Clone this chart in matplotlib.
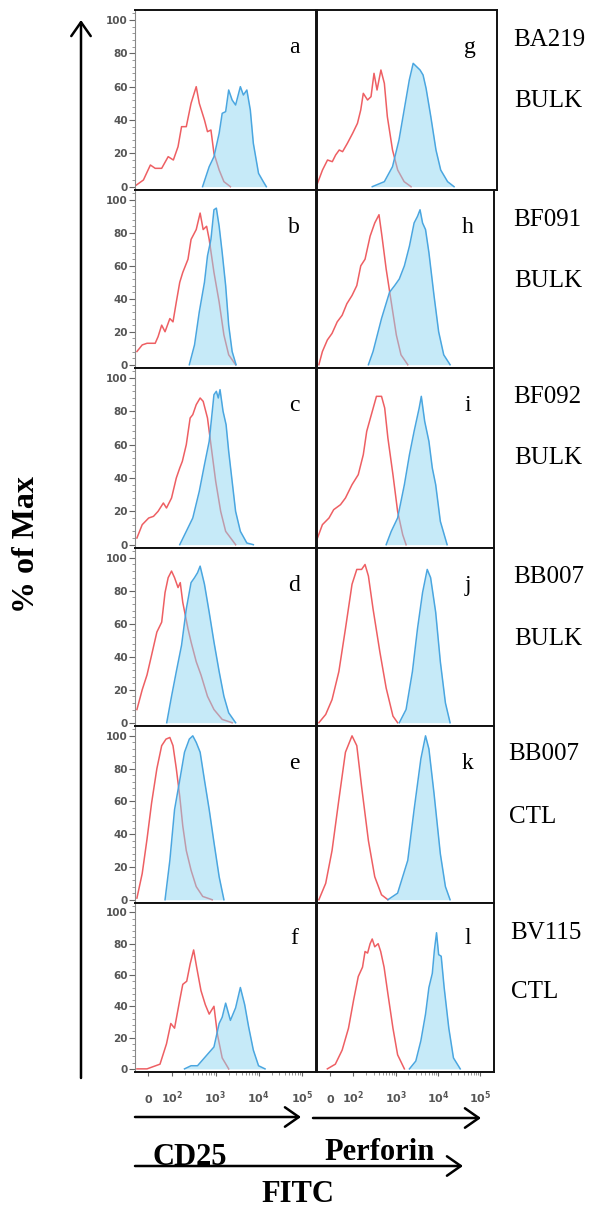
import numpy as np
import matplotlib.pyplot as plt
import matplotlib.ticker as mticker
from matplotlib.patches import FancyArrowPatch

# ---- data: FITC intensity (x) vs % of Max (y), red = control, blue = stained ----
# left column: CD25
a_red_x = [-49, -20, 9, 29, 56, 83, 106, 136, 164, 211, 272, 358, 421, 555, 652, 783, 920, 1213, 1563, 2208]
a_red_y = [1, 4, 13, 11, 11, 18, 16, 24, 36, 36, 50, 60, 50, 40, 33, 34, 20, 10, 3, 0]
a_blue_x = [502, 714, 920, 1213, 1426, 1714, 2014, 2421, 2911, 3750, 4406, 5297, 6368, 7482, 9863, 12706, 14928]
a_blue_y = [0, 12, 18, 32, 44, 45, 58, 52, 49, 60, 55, 58, 46, 26, 8, 3, 0]

b_red_x = [-47, -25, -5, 29, 41, 56, 70, 90, 104, 124, 149, 175, 231, 272, 358, 441, 518, 622, 714, 920, 1213, 1563, 2014, 2911]
b_red_y = [8, 12, 13, 13, 17, 24, 20, 28, 26, 38, 50, 56, 64, 76, 82, 92, 82, 84, 76, 56, 38, 18, 6, 0]
b_blue_x = [248, 327, 421, 555, 652, 783, 920, 1045, 1213, 1426, 1714, 2014, 2421, 2979]
b_blue_y = [0, 12, 32, 50, 66, 76, 94, 95, 84, 68, 48, 24, 8, 0]

c_red_x = [-47, -25, 2, 22, 41, 63, 76, 97, 124, 149, 171, 211, 259, 298, 358, 441, 518, 652, 820, 1009, 1315, 1714, 2911]
c_red_y = [4, 12, 16, 17, 20, 25, 22, 28, 40, 46, 50, 60, 76, 78, 84, 88, 86, 76, 56, 38, 20, 8, 0]
c_blue_x = [149, 211, 298, 421, 555, 714, 920, 1045, 1159, 1271, 1493, 1754, 2014, 2421, 2911, 3750, 5297, 7482]
c_blue_y = [0, 8, 16, 32, 48, 62, 90, 92, 88, 93, 80, 72, 56, 38, 20, 8, 1, 0]

d_red_x = [-47, -25, -5, 14, 36, 56, 70, 83, 97, 113, 136, 153, 175, 231, 272, 358, 461, 652, 920, 1426, 2421]
d_red_y = [8, 20, 29, 41, 55, 61, 79, 88, 92, 88, 82, 85, 73, 57, 49, 37, 29, 16, 8, 2, 0]
d_blue_x = [77, 97, 124, 164, 211, 272, 327, 384, 441, 555, 714, 920, 1213, 1563, 2014, 2911]
d_blue_y = [0, 16, 31, 47, 69, 85, 88, 91, 95, 84, 67, 49, 31, 16, 6, 0]

e_red_x = [-47, -25, -5, 14, 36, 56, 74, 90, 104, 124, 149, 175, 211, 272, 358, 506, 839]
e_red_y = [1, 16, 37, 59, 80, 94, 98, 99, 94, 80, 63, 45, 30, 18, 8, 2, 0]
e_blue_x = [70, 90, 113, 149, 192, 248, 298, 358, 441, 555, 714, 920, 1213, 1563]
e_blue_y = [0, 24, 55, 73, 90, 98, 100, 96, 90, 73, 55, 35, 14, 0]

f_red_x = [-47, -5, 49, 76, 94, 113, 149, 175, 216, 259, 312, 366, 461, 581, 714, 920, 1107, 1426, 2014]
f_red_y = [0, 0, 3, 16, 29, 26, 44, 54, 56, 67, 76, 65, 50, 41, 35, 40, 22, 7, 0]
f_blue_x = [192, 272, 384, 594, 920, 1213, 1426, 1714, 2208, 2911, 3750, 4721, 5808, 7482, 9863, 13932]
f_blue_y = [0, 2, 2, 8, 14, 29, 33, 42, 31, 39, 52, 41, 27, 12, 2, 0]

# right column: Perforin
g_red_x = [-53, -32, -11, 9, 23, 38, 52, 72, 94, 120, 143, 164, 206, 248, 291, 342, 421, 506, 594, 783, 1033, 1459, 2109]
g_red_y = [2, 10, 16, 15, 19, 22, 21, 26, 32, 38, 46, 56, 52, 54, 68, 58, 70, 62, 42, 22, 10, 3, 0]
g_blue_x = [265, 506, 783, 1107, 1459, 1923, 2366, 2844, 3420, 4018, 4721, 6081, 8017, 10328, 14928, 21086]
g_blue_y = [0, 3, 12, 28, 46, 64, 74, 72, 70, 67, 59, 42, 22, 10, 3, 0]

h_red_x = [-47, -32, -11, 9, 31, 52, 72, 94, 120, 149, 188, 248, 319, 402, 472, 594, 783, 1033, 1330, 1923]
h_red_y = [0, 8, 15, 19, 26, 30, 37, 42, 48, 60, 64, 78, 86, 91, 78, 58, 38, 18, 6, 0]
h_blue_x = [226, 291, 461, 714, 942, 1213, 1600, 2109, 2716, 3266, 3750, 4305, 5058, 6081, 8017, 10328, 13614, 19231]
h_blue_y = [0, 8, 28, 44, 48, 52, 60, 72, 86, 90, 94, 86, 82, 68, 42, 20, 6, 0]

i_red_x = [-53, -32, -4, 16, 45, 66, 94, 130, 171, 206, 265, 350, 461, 548, 652, 859, 1107, 1459, 1754]
i_red_y = [4, 12, 16, 21, 24, 28, 36, 42, 54, 68, 78, 89, 89, 82, 64, 42, 20, 6, 0]
i_blue_x = [594, 783, 1107, 1600, 2109, 2716, 3581, 4018, 4831, 6081, 7311, 8790, 11324, 16368]
i_blue_y = [0, 8, 16, 36, 54, 68, 82, 89, 74, 62, 46, 36, 14, 0]

j_red_x = [-47, -18, 9, 38, 66, 94, 120, 156, 188, 226, 291, 421, 594, 859, 1107]
j_red_y = [0, 5, 14, 31, 57, 84, 93, 93, 96, 89, 69, 43, 21, 4, 0]
j_blue_x = [1213, 1754, 2477, 3266, 4305, 5546, 6668, 8790, 11324, 14928, 19231]
j_blue_y = [0, 8, 31, 57, 79, 93, 88, 67, 37, 12, 0]

k_red_x = [-47, -18, 9, 38, 66, 94, 120, 156, 226, 319, 461, 652]
k_red_y = [0, 10, 30, 61, 90, 100, 94, 69, 36, 14, 3, 0]
k_blue_x = [652, 1107, 1923, 2716, 3926, 5058, 6081, 8017, 11324, 14928, 19231]
k_blue_y = [0, 4, 24, 55, 86, 100, 92, 65, 28, 8, 0]

l_red_x = [-11, 23, 52, 79, 101, 130, 164, 188, 216, 248, 278, 319, 384, 441, 530, 652, 859, 1107, 1600]
l_red_y = [0, 3, 12, 26, 44, 59, 65, 75, 74, 80, 83, 78, 80, 75, 65, 48, 26, 9, 0]
l_blue_x = [2109, 2979, 3926, 5058, 6081, 7311, 8204, 9204, 10328, 11858, 13932, 17947, 23121, 33420]
l_blue_y = [0, 5, 18, 35, 52, 61, 76, 87, 73, 72, 52, 26, 7, 0]

left_panels = [
    ('a', a_red_x, a_red_y, a_blue_x, a_blue_y),
    ('b', b_red_x, b_red_y, b_blue_x, b_blue_y),
    ('c', c_red_x, c_red_y, c_blue_x, c_blue_y),
    ('d', d_red_x, d_red_y, d_blue_x, d_blue_y),
    ('e', e_red_x, e_red_y, e_blue_x, e_blue_y),
    ('f', f_red_x, f_red_y, f_blue_x, f_blue_y),
]
right_panels = [
    ('g', g_red_x, g_red_y, g_blue_x, g_blue_y),
    ('h', h_red_x, h_red_y, h_blue_x, h_blue_y),
    ('i', i_red_x, i_red_y, i_blue_x, i_blue_y),
    ('j', j_red_x, j_red_y, j_blue_x, j_blue_y),
    ('k', k_red_x, k_red_y, k_blue_x, k_blue_y),
    ('l', l_red_x, l_red_y, l_blue_x, l_blue_y),
]
sample_names = ['BA219', 'BF091', 'BF092', 'BB007', 'BB007', 'BV115']
sample_types = ['BULK', 'BULK', 'BULK', 'BULK', 'CTL', 'CTL']
y_ticks = [0, 20, 40, 60, 80, 100]
x_ticks = [0, 100, 1000, 10000, 100000]
x_tick_labels = ['0', r'$\mathbf{10^2}$', r'$\mathbf{10^3}$', r'$\mathbf{10^4}$', r'$\mathbf{10^5}$']

# ---- layout (pixel boxes) ----
W, H = 592, 1211
rows = [(10, 190), (190, 368), (368, 548), (548, 726), (726, 903), (903, 1072)]
cols = [(135, 316), (317, 494)]
label_x = [513, 513, 513, 513, 508, 510]
label_dy = [(30, 91), (30, 91), (29, 90), (29, 91), (28, 91), (30, 89)]

RED = '#ee5f63'
BLUE = '#4aa6e0'
FILL = '#8fd6f2'
SERIF = 'Liberation Serif'

fig = plt.figure(figsize=(W / 100, H / 100), dpi=100)


def rect(x0, x1, top, bottom):
    return [x0 / W, 1 - bottom / H, (x1 - x0) / W, (bottom - top) / H]


def draw_panel(ax, letter, rx, ry, bx, by, col, last):
    ax.plot(rx, ry, color=RED, lw=1.1, zorder=2, solid_joinstyle='round')
    ax.fill_between(bx, by, 0, color=FILL, alpha=0.5, lw=0, zorder=3)
    ax.plot(bx, by, color=BLUE, lw=1.1, zorder=4, solid_joinstyle='round')

    ax.set_xscale('symlog', linthresh=100, linscale=0.5)
    ax.set_xlim(-55, 2.1e5)
    ax.set_ylim(-2, 106)

    for s in ax.spines.values():
        s.set_color('#111111')
        s.set_linewidth(1.4)

    if col == 0:
        ax.spines['left'].set_color('#888888')
        ax.spines['left'].set_linewidth(0.8)
        ax.set_yticks(y_ticks)
        ax.set_yticklabels([str(v) for v in y_ticks], fontsize=7.5, fontweight='bold',
                           color='#555555', family='DejaVu Sans')
        ax.yaxis.set_minor_locator(mticker.MultipleLocator(4))
        ax.tick_params(axis='y', which='major', length=4, width=0.8, color='#666666', pad=1)
        ax.tick_params(axis='y', which='minor', length=2, width=0.6, color='#888888')
    else:
        ax.tick_params(axis='y', which='both', left=False, labelleft=False)

    if last:
        ax.set_xticks(x_ticks)
        ax.set_xticklabels(x_tick_labels, fontsize=8, fontweight='bold', color='#555555',
                           family='DejaVu Sans')
        for lab in ax.get_xticklabels():
            lab.set_verticalalignment('baseline')
        minor = np.concatenate([np.arange(2, 10) * 10.0 ** k for k in range(2, 5)])
        ax.xaxis.set_minor_locator(mticker.FixedLocator(minor))
        ax.tick_params(axis='x', which='major', length=3, width=0.8, color='#666666', pad=19)
        ax.tick_params(axis='x', which='minor', length=2, width=0.6, color='#888888')
    else:
        ax.tick_params(axis='x', which='both', bottom=False, labelbottom=False)

    lx = 0.88 if col == 0 else 0.85
    ax.text(lx, 0.79, letter, transform=ax.transAxes, ha='center', va='center',
            fontsize=17, family=SERIF)


for r, (top, bottom) in enumerate(rows):
    for c, panels in enumerate([left_panels, right_panels]):
        x0, x1 = cols[c]
        if r == 0 and c == 1:
            x1 = 497
        ax = fig.add_axes(rect(x0, x1, top, bottom))
        draw_panel(ax, *panels[r], col=c, last=(r == len(rows) - 1))
    d1, d2 = label_dy[r]
    fig.text(label_x[r] / W, 1 - (top + d1) / H, sample_names[r], fontsize=18,
             family=SERIF, ha='left', va='center')
    fig.text((label_x[r] + 1) / W, 1 - (top + d2) / H, sample_types[r], fontsize=18,
             family=SERIF, ha='left', va='center')


# ---- arrows and axis titles ----
def arrow(x0, y0, x1, y1):
    p = FancyArrowPatch((x0 / W, 1 - y0 / H), (x1 / W, 1 - y1 / H),
                        transform=fig.transFigure, arrowstyle='->,head_length=0.5,head_width=0.35',
                        mutation_scale=20, lw=1.8, color='black', shrinkA=0, shrinkB=0)
    fig.add_artist(p)


arrow(81, 1078, 81, 20)
arrow(135, 1117, 301, 1117)
arrow(313, 1118, 481, 1118)
arrow(135, 1166, 463, 1166)

fig.text(27 / W, 1 - 545 / H, '% of Max', rotation=90, fontsize=23, fontweight='bold',
         family=SERIF, ha='center', va='center')
fig.text(190 / W, 1 - 1165 / H, 'CD25', fontsize=22, fontweight='bold', family=SERIF,
         ha='center', va='baseline')
fig.text(380 / W, 1 - 1160 / H, 'Perforin', fontsize=22, fontweight='bold', family=SERIF,
         ha='center', va='baseline')
fig.text(298 / W, 1 - 1194 / H, 'FITC', fontsize=22, fontweight='bold', family=SERIF,
         ha='center', va='center')

fig.savefig('out.png', dpi=100)
